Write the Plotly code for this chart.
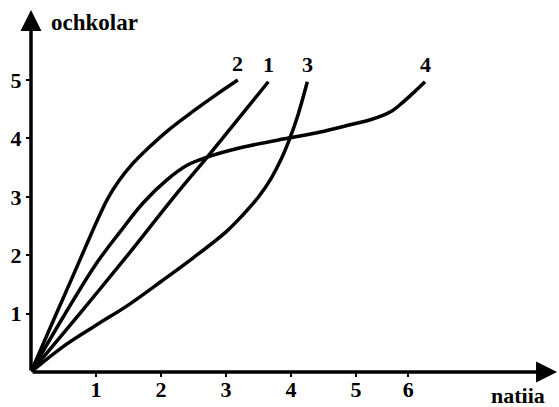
import plotly.graph_objects as go

# ---- data ----
curve1_x = [0, 0.75, 1.50, 2.20, 2.71, 3.20, 3.65]
curve1_y = [0, 1.00, 2.02, 3.00, 3.68, 4.35, 4.97]

curve2_x = [0, 0.30, 0.60, 0.85, 1.02, 1.18, 1.35, 1.55, 1.80, 2.10, 2.50, 2.85, 3.18]
curve2_y = [0, 0.77, 1.53, 2.17, 2.60, 2.97, 3.27, 3.55, 3.83, 4.13, 4.47, 4.75, 5.00]

curve3_x = [0, 0.50, 1.00, 1.50, 2.00, 2.50, 3.00, 3.25, 3.50, 3.70, 3.85, 3.97, 4.10, 4.25]
curve3_y = [0, 0.44, 0.80, 1.15, 1.55, 1.96, 2.40, 2.68, 3.00, 3.33, 3.65, 3.97, 4.38, 4.97]

curve4_x = [0, 0.50, 1.00, 1.37, 1.72, 2.09, 2.40, 2.71, 3.22, 3.98, 4.45, 4.86, 5.22, 5.40, 5.55, 5.70, 5.88, 6.06]
curve4_y = [0, 0.95, 1.85, 2.40, 2.89, 3.29, 3.54, 3.68, 3.84, 4.01, 4.11, 4.22, 4.32, 4.39, 4.47, 4.60, 4.78, 4.97]

curve_names = ["1", "2", "3", "4"]

x_tick_pos = [1, 2, 3, 4, 5, 5.8]
x_tick_text = ["1", "2", "3", "4", "5", "6"]
y_tick_pos = [1, 2, 3, 4, 5]
y_tick_text = ["1", "2", "3", "4", "5"]

x_label = "natiia"
y_label = "ochkolar"

X_MAX = 8.12
Y_MAX = 6.37

FAM = "Liberation Serif"
TXT = dict(family=FAM, size=22, color="black", weight="bold")
TXT_TITLE = dict(family=FAM, size=23, color="black", weight="bold")

fig = go.Figure()
series = [(curve1_x, curve1_y), (curve2_x, curve2_y), (curve3_x, curve3_y), (curve4_x, curve4_y)]
for name, (xs, ys) in zip(curve_names, series):
    fig.add_trace(go.Scatter(
        x=xs, y=ys, mode="lines", name=name,
        line=dict(color="black", width=3.5, shape="spline", smoothing=1.0),
        cliponaxis=False, showlegend=False, hoverinfo="skip",
    ))
    fig.add_annotation(
        x=xs[-1], y=ys[-1], text=name, showarrow=False,
        yshift=17, font=TXT,
    )

# axis arrows
fig.add_annotation(x=8.09, y=0, ax=0, ay=0, xref="x", yref="y", axref="x", ayref="y",
                   text="", showarrow=True, arrowhead=2, arrowsize=1.2, arrowwidth=3.5,
                   arrowcolor="black")
fig.add_annotation(x=0, y=6.2, ax=0, ay=0, xref="x", yref="y", axref="x", ayref="y",
                   text="", showarrow=True, arrowhead=2, arrowsize=1.2, arrowwidth=3.5,
                   arrowcolor="black")

# axis titles
fig.add_annotation(x=0.27, y=5.98, xref="x", yref="y", text=y_label, showarrow=False,
                   xanchor="left", font=TXT_TITLE)
fig.add_annotation(x=7.49, y=0, yshift=-23, xref="x", yref="y", text=x_label, showarrow=False,
                   xanchor="center", font=TXT, borderpad=0)

common = dict(ticks="outside", ticklen=4, tickwidth=2, tickcolor="black",
              showgrid=False, zeroline=False, showline=False, automargin=False,
              tickfont=TXT)
fig.update_xaxes(range=[0, X_MAX], tickvals=x_tick_pos, ticktext=x_tick_text,
                 ticklabelstandoff=-6, **common)
fig.update_yaxes(range=[0, Y_MAX], tickvals=y_tick_pos, ticktext=y_tick_text, **common)

fig.update_layout(
    width=559, height=407,
    margin=dict(l=31, r=0, t=0, b=35, autoexpand=False),
    paper_bgcolor="white", plot_bgcolor="white",
    font=dict(family=FAM, color="black"),
)

fig.write_html("out.html", config={"displayModeBar": False},
               post_script="document.body.style.margin='0';document.body.style.padding='0';")
